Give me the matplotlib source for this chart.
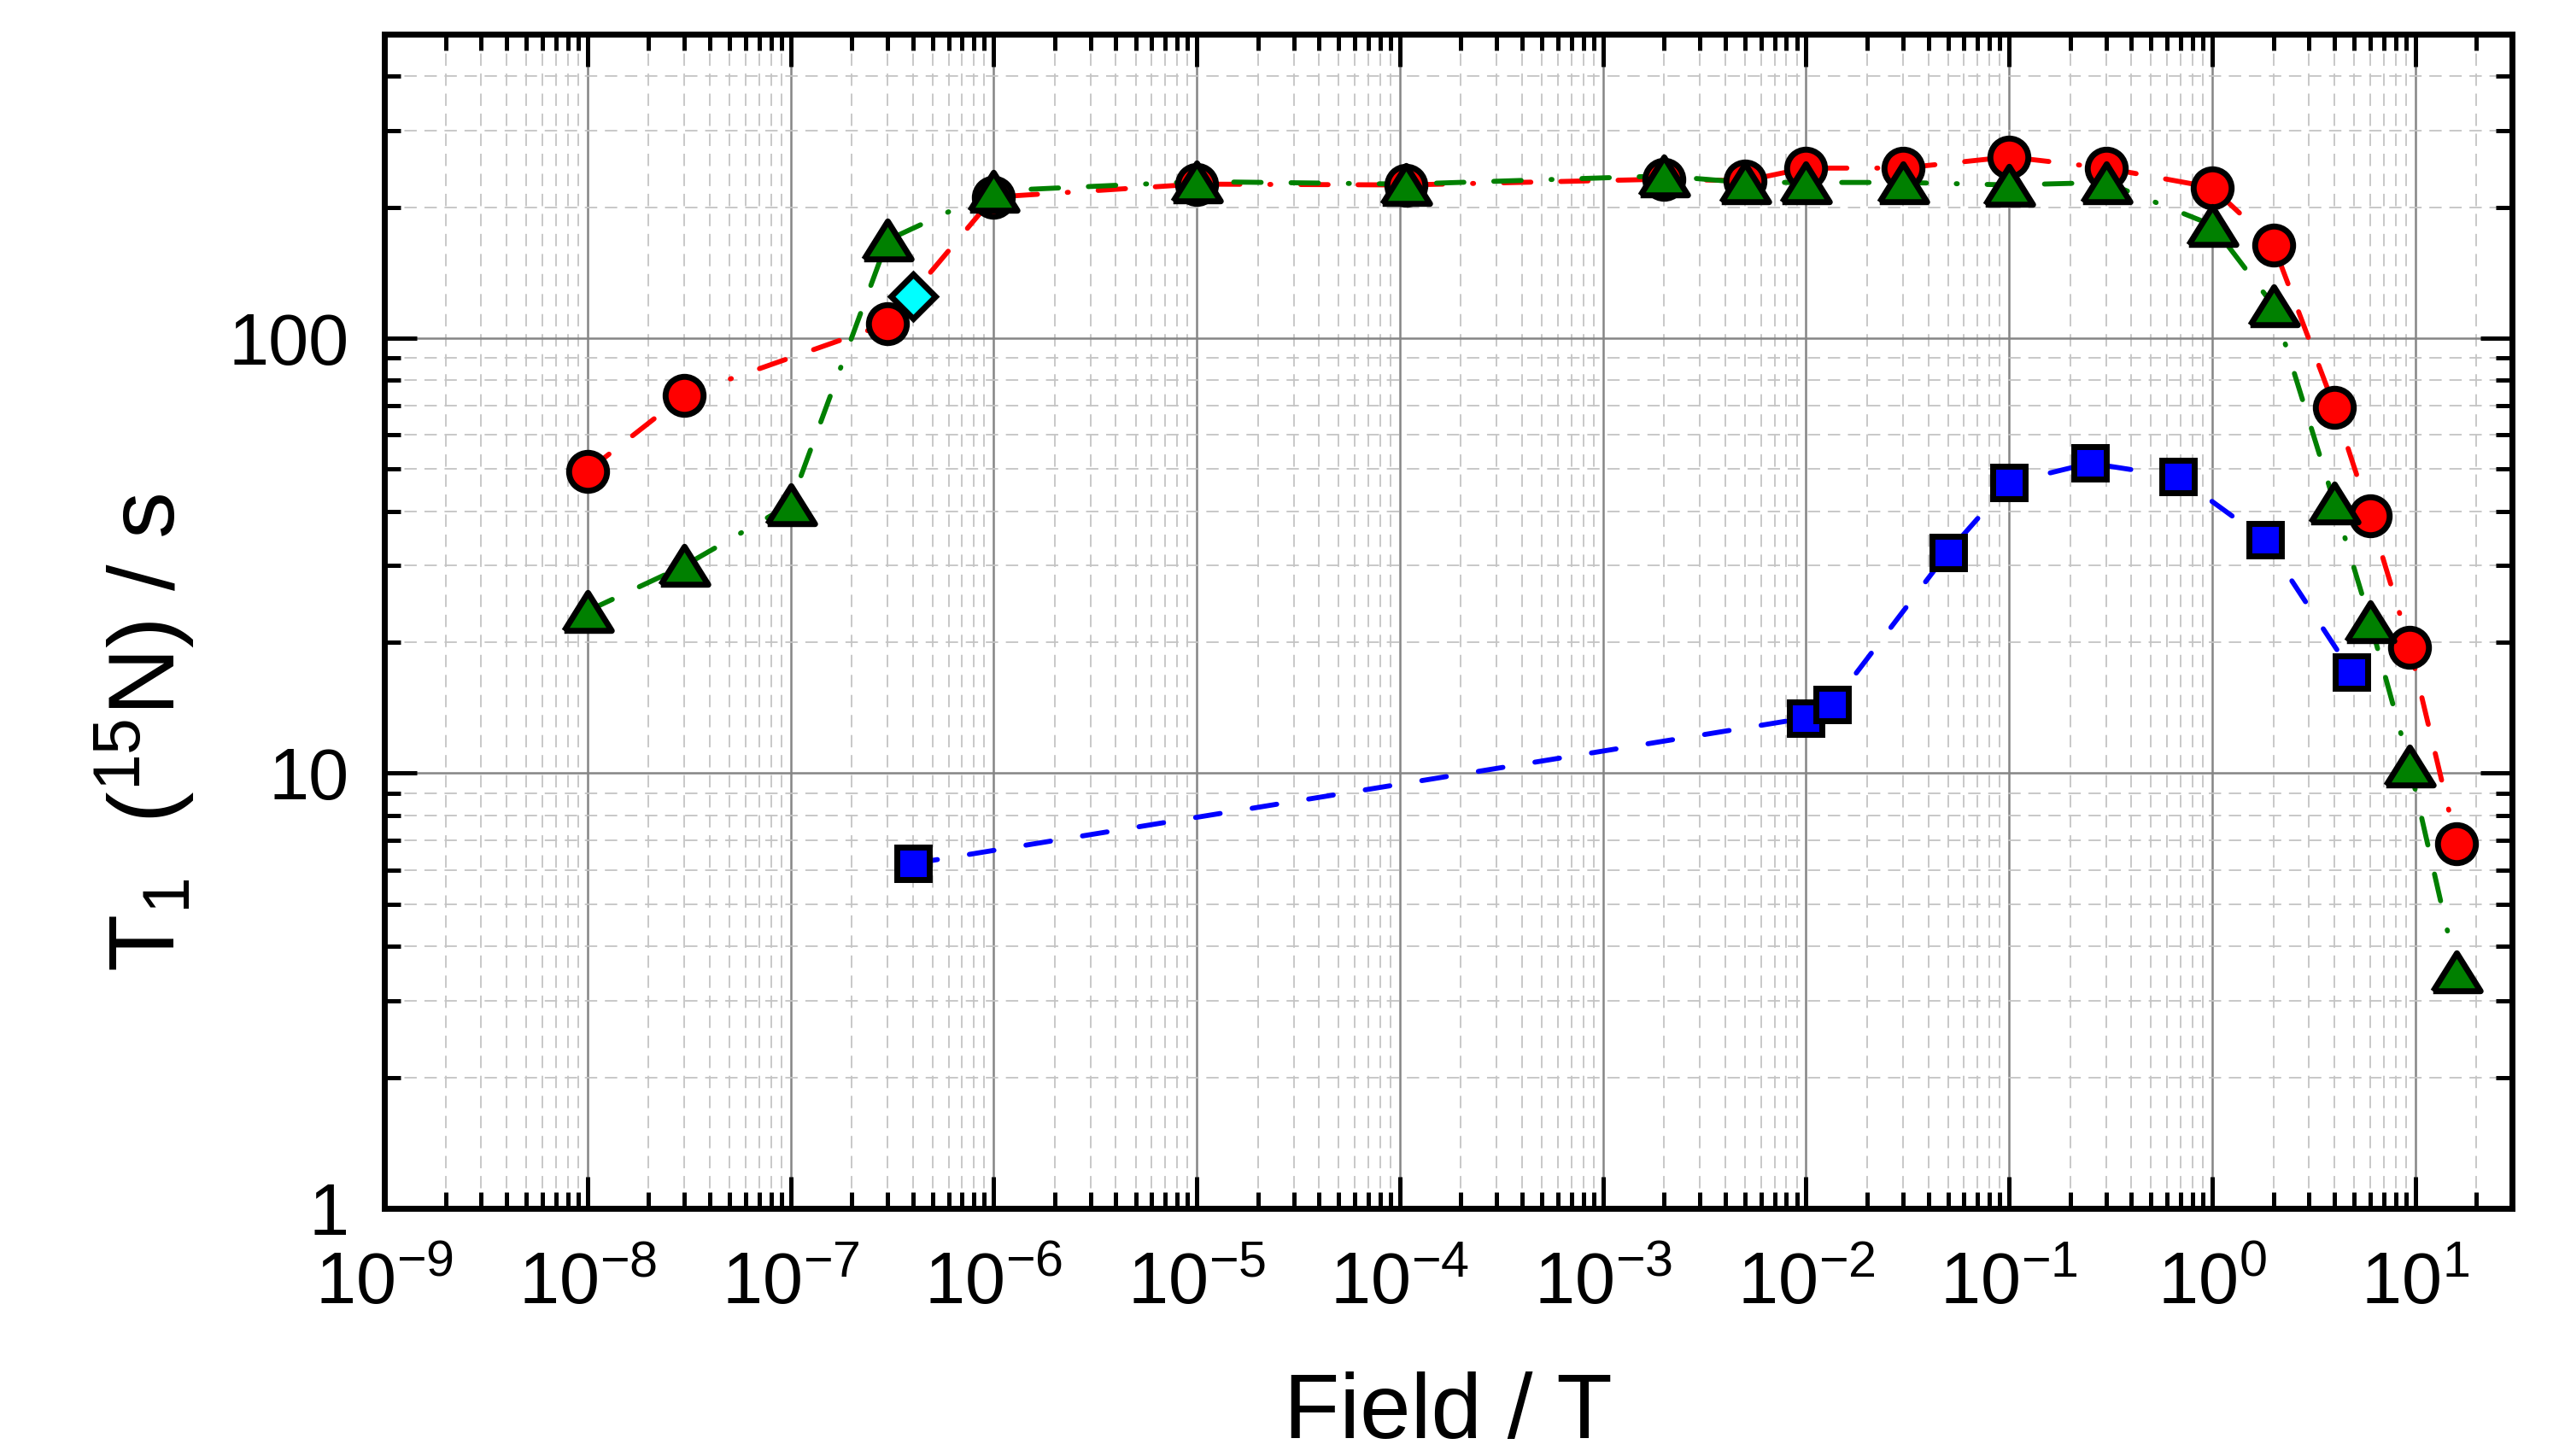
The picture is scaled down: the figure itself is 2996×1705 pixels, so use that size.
import numpy as np
import matplotlib.pyplot as plt
from matplotlib.ticker import LogLocator, NullFormatter, FixedLocator, FixedFormatter

plt.rcParams['font.family'] = ['Liberation Sans', 'DejaVu Sans']
plt.rcParams['mathtext.fontset'] = 'custom'
plt.rcParams['mathtext.rm'] = 'Liberation Sans'
plt.rcParams['mathtext.it'] = 'Liberation Sans'
plt.rcParams['mathtext.bf'] = 'Liberation Sans:bold'

# red circles
red_x = [1e-8, 3e-8, 3e-7, 1e-6, 1e-5, 1.07e-4, 2e-3, 5e-3, 1e-2, 3e-2, 0.1, 0.3, 1, 2, 4, 6, 9.4, 16]
red_y = [49.5, 74, 108, 211, 226, 225, 232, 230, 246, 246, 261, 246, 222, 164, 69.5, 39, 19.5, 6.9]

# green triangles
green_x = [1e-8, 3e-8, 1e-7, 3e-7, 1e-6, 1e-5, 1.07e-4, 2e-3, 5e-3, 1e-2, 3e-2, 0.1, 0.3, 1, 2, 4, 6, 9.4, 16]
green_y = [23.6, 30, 41.5, 168, 218, 229, 226, 236, 228, 228, 228, 225, 228, 182, 119, 41.8, 22.3, 10.4, 3.5]

# blue squares
blue_x = [4e-7, 0.01, 0.0135, 0.05, 0.1, 0.25, 0.68, 1.82, 4.85]
blue_y = [6.2, 13.4, 14.4, 32.2, 46.5, 51.6, 48, 34.4, 17.1]

# cyan diamond
cyan_x = [4e-7]
cyan_y = [125]

x_ticks = [10.0 ** e for e in range(-9, 2)]
x_labels = ['$10^{%d}$' % e for e in range(-9, 2)]
y_ticks = [1, 10, 100]
y_labels = ['1', '10', '100']

fig = plt.figure(figsize=(29.96, 17.05), dpi=100)
ax = fig.add_axes([0.1502, 0.1701, 0.8315, 0.8065])
ax.set_xscale('log')
ax.set_yscale('log')
ax.set_xlim(1e-9, 30)
ax.set_ylim(1, 500)

dashdot = (0, (5.5, 6, 5.5, 6, 5.5, 6, 0.2, 6))
ln_r, = ax.plot(red_x, red_y, color='red', lw=4.2, ls=dashdot, zorder=3)
ln_g, = ax.plot(green_x, green_y, color='green', lw=4.2, ls=dashdot, zorder=3)
ln_b, = ax.plot(blue_x, blue_y, color='blue', lw=4.2, ls=(0, (5, 6.5)), zorder=3)
for ln in (ln_r, ln_g, ln_b):
    ln.set_dash_capstyle('round')

tri = [(-1, -0.8), (1, -0.8), (0, 0.8), (-1, -0.8)]
ax.plot(red_x, red_y, 'o', ms=32, mfc='red', mec='black', mew=5, ls='none', zorder=4)
ax.plot(green_x, green_y, marker=tri, ms=40, mfc='green', mec='black', mew=5, ls='none', zorder=5)
ax.plot(blue_x, blue_y, 's', ms=27, mfc='blue', mec='black', mew=5, ls='none', zorder=4)
ax.plot(cyan_x, cyan_y, 'D', ms=26, mfc='cyan', mec='black', mew=5, ls='none', zorder=6)

# grid
ax.grid(True, which='major', color='#858585', lw=1.8, ls='-', zorder=0)
ax.grid(True, which='minor', color='#c4c4c4', lw=1.3, ls=(0, (8, 5)), zorder=0)
ax.set_axisbelow(True)

ax.xaxis.set_major_locator(FixedLocator(x_ticks))
ax.xaxis.set_major_formatter(FixedFormatter(x_labels))
ax.xaxis.set_minor_locator(LogLocator(base=10, subs=np.arange(2, 10), numticks=50))
ax.xaxis.set_minor_formatter(NullFormatter())
ax.yaxis.set_major_locator(FixedLocator(y_ticks))
ax.yaxis.set_major_formatter(FixedFormatter(y_labels))
ax.yaxis.set_minor_locator(LogLocator(base=10, subs=np.arange(2, 10), numticks=50))
ax.yaxis.set_minor_formatter(NullFormatter())

ax.tick_params(which='both', direction='in', top=True, right=True, width=3.6, labelsize=61)
ax.tick_params(which='major', length=27)
ax.tick_params(which='minor', length=14)
ax.tick_params(axis='x', which='major', pad=36)
ax.tick_params(axis='y', which='major', pad=30)
for s in ax.spines.values():
    s.set_linewidth(5)

ax.set_xlabel('Field / T', fontsize=77, labelpad=44)
ax.set_ylabel(r'T$_1$  ($^{15}$N) / s', fontsize=79)
ax.yaxis.set_label_coords(-0.088, 0.405)

fig.savefig('out.png', dpi=100)
